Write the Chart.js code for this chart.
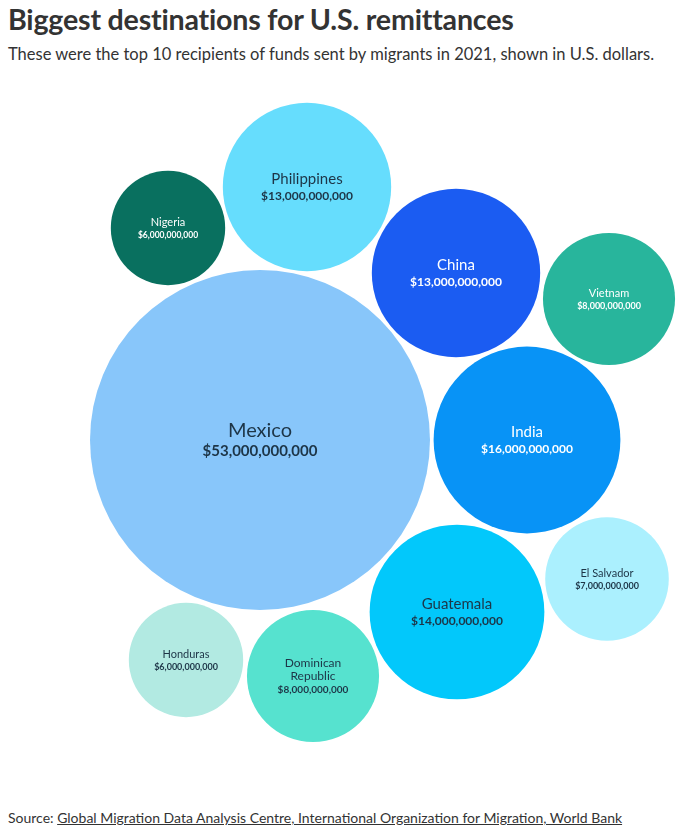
<!DOCTYPE html>
<html>
<head>
<meta charset="utf-8">
<script src="https://cdn.jsdelivr.net/npm/chart.js@4"></script>
<style>
  body { margin: 0; background: #fff; font-family: Lato, sans-serif; color: #333; }
  #titulo { position: absolute; left: 8px; top: 2px; margin: 0; font-size: 28.6px; font-weight: 700; color: #333; letter-spacing: -0.2px; }
  #sub { position: absolute; left: 8px; top: 44px; margin: 0; font-size: 16.5px; color: #333; }
  #grafico { position: absolute; left: 0; top: 80px; width: 690px; height: 700px; }
  #fonte { position: absolute; left: 8px; top: 809px; font-size: 14px; color: #333; }
  #fonte span { text-decoration: underline; }
</style>
</head>
<body>
<h1 id="titulo">Biggest destinations for U.S. remittances</h1>
<p id="sub">These were the top 10 recipients of funds sent by migrants in 2021, shown in U.S. dollars.</p>
<div id="grafico"><canvas id="bolhas"></canvas></div>
<div id="fonte">Source: <span>Global Migration Data Analysis Centre, International Organization for Migration, World Bank</span></div>
<script>
// paises e remessas (bilhoes de US$)
const paises = ["Mexico", "Philippines", "Nigeria", "China", "Vietnam", "India", "El Salvador", "Guatemala", "Honduras", "Dominican Republic"];
const remessas = [53, 13, 6, 13, 8, 16, 7, 14, 6, 8];
// posicao do centro de cada bolha no layout empacotado
const posX = [260, 307, 168, 456, 609, 527, 607, 457, 186, 313];
const posY = [440, 187, 228, 273, 299, 440, 579, 612, 660, 676];
const cores = ["#88c6fa", "#66ddfd", "#09705f", "#1b5cf2", "#28b59c", "#0893f6", "#abf0fe", "#02c8fb", "#b2eae2", "#56e2cf"];
const corTexto = ["#1d3547", "#1d3547", "#fff", "#fff", "#fff", "#fff", "#1d3547", "#1d3547", "#1d3547", "#1d3547"];
// tamanho do texto: [nome, valor]
const fontes = [[20, 15], [15, 12], [11, 8.5], [15, 12], [11, 9], [15, 12], [11, 9], [15, 12], [11, 9], [12, 10]];

const fator = 23.35; // px por raiz de bilhao

function formatar(v) {
  return "$" + (v * 1e9).toLocaleString("en-US");
}

const rotulos = {
  id: "rotulos",
  afterDatasetsDraw(chart) {
    const ctx = chart.ctx;
    const meta = chart.getDatasetMeta(0);
    ctx.save();
    ctx.textAlign = "center";
    ctx.textBaseline = "middle";
    meta.data.forEach((el, i) => {
      const [fn, fv] = fontes[i];
      ctx.fillStyle = corTexto[i];
      const linhas = paises[i] === "Dominican Republic" ? ["Dominican", "Republic"] : [paises[i]];
      const alt = fn * 1.05;
      const total = linhas.length * alt + fv * 1.3;
      let y = el.y - total / 2 + alt / 2;
      ctx.font = `400 ${fn}px Lato`;
      linhas.forEach(l => { ctx.fillText(l, el.x, y); y += alt; });
      ctx.font = `700 ${fv}px Lato`;
      ctx.fillText(formatar(remessas[i]), el.x, y + (fv * 1.3 - alt) / 2 + 1);
    });
    ctx.restore();
  }
};

new Chart(document.getElementById("bolhas"), {
  type: "bubble",
  data: {
    datasets: [{
      data: paises.map((p, i) => ({ x: posX[i], y: posY[i], v: remessas[i] })),
      backgroundColor: cores,
      borderWidth: 0,
      hoverBorderWidth: 0,
      clip: false,
      radius: ctx => {
        if (!ctx.raw) return 3;
        return Math.sqrt(ctx.raw.v) * fator * ctx.chart.width / 690;
      }
    }]
  },
  options: {
    responsive: true,
    maintainAspectRatio: false,
    animation: false,
    events: [],
    layout: { padding: 0, autoPadding: false },
    plugins: { legend: { display: false }, tooltip: { enabled: false } },
    scales: {
      x: { type: "linear", min: 0, max: 690, display: false },
      y: { type: "linear", min: 80, max: 780, reverse: true, display: false }
    }
  },
  plugins: [rotulos]
});
</script>
</body>
</html>
